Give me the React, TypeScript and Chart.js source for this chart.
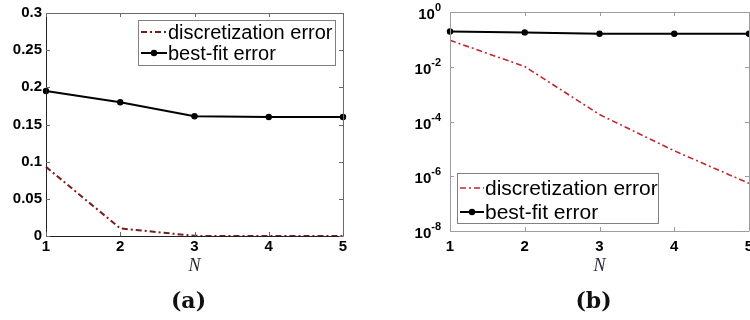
import React, { useEffect, useRef } from "react";
import { Chart, registerables } from "chart.js";

Chart.register(...registerables);

// Number of basis functions on the horizontal axis
const N = [1, 2, 3, 4, 5];
// Error curves
const discretizationError = [0.093, 0.0102, 1.8e-4, 8.5e-6, 5.5e-7];
const bestFitError = [0.195, 0.18, 0.161, 0.16, 0.16];
// Tick values
const linearTicks = [0, 0.05, 0.1, 0.15, 0.2, 0.25, 0.3];
const logExponents = [-8, -6, -4, -2, 0];
// Text
const seriesLabels = ["discretization error", "best-fit error"];
const panelLabels = ["(a)", "(b)"];
const axisTitle = "N";

const SANS = "'Liberation Sans', Arial, Helvetica, sans-serif";
const TICK_FONT = `bold 15px ${SANS}`;

type LegendBox = { x: number; y: number; w: number; h: number; firstRow: number; rowGap: number; lineLen: number; fontSize: number };

type DecorCfg = {
  frameLeftBottom: string;
  frameTopRight: string;
  legend: LegendBox;
  panelLabel: string;
  panelDx: number;
  logLabels: boolean;
  xLabelPad: number;
};

function makeDecor(cfg: DecorCfg) {
  return {
    id: "decor",
    afterDatasetsDraw(chart: any) {
      const { ctx, chartArea } = chart;
      const { left, right, top, bottom } = chartArea;
      const xs = chart.scales.x;
      const ys = chart.scales.y;
      ctx.save();

      // box frame
      ctx.lineWidth = 1;
      ctx.strokeStyle = cfg.frameTopRight;
      ctx.beginPath();
      ctx.moveTo(left, top + 0.5);
      ctx.lineTo(right + 0.5, top + 0.5);
      ctx.lineTo(right + 0.5, bottom);
      ctx.stroke();
      ctx.strokeStyle = cfg.frameLeftBottom;
      ctx.beginPath();
      ctx.moveTo(left + 0.5, top);
      ctx.lineTo(left + 0.5, bottom + 0.5);
      ctx.lineTo(right + 0.5, bottom + 0.5);
      ctx.stroke();

      // inward tick marks on all four sides
      ctx.strokeStyle = cfg.frameTopRight;
      const tl = 4;
      ctx.beginPath();
      for (const t of xs.ticks) {
        const px = Math.round(xs.getPixelForValue(t.value)) + 0.5;
        ctx.moveTo(px, bottom);
        ctx.lineTo(px, bottom - tl);
        ctx.moveTo(px, top);
        ctx.lineTo(px, top + tl);
      }
      for (const t of ys.ticks) {
        const py = Math.round(ys.getPixelForValue(t.value)) + 0.5;
        ctx.moveTo(left, py);
        ctx.lineTo(left + tl, py);
        ctx.moveTo(right, py);
        ctx.lineTo(right - tl, py);
      }
      ctx.stroke();

      // x tick labels
      ctx.fillStyle = "#000";
      ctx.font = TICK_FONT;
      ctx.textAlign = "center";
      ctx.textBaseline = "top";
      for (const t of xs.ticks) {
        ctx.fillText(String(t.value), xs.getPixelForValue(t.value), bottom + cfg.xLabelPad);
      }

      // power-of-ten labels for the log axis
      if (cfg.logLabels) {
        ctx.textBaseline = "middle";
        ctx.textAlign = "left";
        for (const t of ys.ticks) {
          const e = Math.round(Math.log10(t.value));
          const py = ys.getPixelForValue(t.value);
          const base = "10";
          const exp = String(e);
          ctx.font = TICK_FONT;
          const wb = ctx.measureText(base).width;
          ctx.font = `bold 11px ${SANS}`;
          const we = ctx.measureText(exp).width;
          const x0 = left - 9 - wb - we;
          ctx.font = TICK_FONT;
          ctx.fillText(base, x0, py + 3);
          ctx.font = `bold 11px ${SANS}`;
          ctx.fillText(exp, x0 + wb, py - 4);
        }
      }

      // legend
      const lg = cfg.legend;
      ctx.fillStyle = "#fff";
      ctx.fillRect(lg.x, lg.y, lg.w, lg.h);
      ctx.strokeStyle = "#808080";
      ctx.lineWidth = 1;
      ctx.strokeRect(lg.x + 0.5, lg.y + 0.5, lg.w, lg.h);
      chart.data.datasets.forEach((ds: any, i: number) => {
        const cy = lg.y + lg.firstRow + i * lg.rowGap;
        const x1 = lg.x + 3;
        const x2 = x1 + lg.lineLen;
        ctx.save();
        ctx.strokeStyle = ds.borderColor;
        ctx.lineWidth = ds.borderWidth;
        ctx.setLineDash(ds.borderDash || []);
        ctx.beginPath();
        ctx.moveTo(x1, cy);
        ctx.lineTo(x2, cy);
        ctx.stroke();
        ctx.restore();
        if (ds.pointRadius > 0) {
          ctx.fillStyle = ds.pointBackgroundColor;
          ctx.beginPath();
          ctx.arc((x1 + x2) / 2, cy, ds.pointRadius, 0, Math.PI * 2);
          ctx.fill();
        }
        ctx.fillStyle = "#000";
        ctx.font = `${lg.fontSize}px ${SANS}`;
        ctx.textAlign = "left";
        ctx.textBaseline = "middle";
        ctx.fillText(ds.label, x2 + 1, cy + 1);
      });

      // axis title and panel label
      const cx = (left + right) / 2;
      ctx.fillStyle = "#2b2b3a";
      ctx.textAlign = "center";
      ctx.textBaseline = "middle";
      ctx.font = `italic 18px 'Liberation Serif', 'Times New Roman', serif`;
      ctx.fillText(axisTitle, cx, 266);
      ctx.fillStyle = "#111";
      ctx.font = `bold 22px 'DejaVu Serif', serif`;
      ctx.fillText(cfg.panelLabel, cx + cfg.panelDx, 302);

      ctx.restore();
    },
  };
}

function buildConfig(logScale: boolean): any {
  const discColor = logScale ? "#c4262e" : "#7a1c1c";
  const datasets = [
    {
      label: seriesLabels[0],
      data: N.map((n, i) => ({ x: n, y: discretizationError[i] })),
      borderColor: discColor,
      backgroundColor: discColor,
      borderWidth: logScale ? 1.6 : 2,
      borderDash: [6, 3, 2, 3],
      pointRadius: 0,
      pointBackgroundColor: discColor,
      tension: 0,
      clip: false,
    },
    {
      label: seriesLabels[1],
      data: N.map((n, i) => ({ x: n, y: bestFitError[i] })),
      borderColor: "#000",
      backgroundColor: "#000",
      borderWidth: 2,
      pointRadius: 3.2,
      pointBorderWidth: 0,
      pointBackgroundColor: "#000",
      tension: 0,
      clip: false,
    },
  ];

  const hiddenGrid = { display: false, drawTicks: false };

  const yScale = logScale
    ? {
        type: "logarithmic",
        min: 1e-8,
        max: 1,
        afterBuildTicks: (s: any) => {
          s.ticks = logExponents.map((e) => ({ value: Math.pow(10, e) }));
        },
        afterFit: (s: any) => {
          s.width = 75;
        },
        grid: hiddenGrid,
        border: { display: false },
        ticks: { display: false },
      }
    : {
        type: "linear",
        min: 0,
        max: 0.3,
        afterBuildTicks: (s: any) => {
          s.ticks = linearTicks.map((v) => ({ value: v }));
        },
        afterFit: (s: any) => {
          s.width = 46;
        },
        grid: hiddenGrid,
        border: { display: false },
        ticks: {
          padding: 4,
          color: "#000",
          font: { family: SANS, size: 15, weight: "bold" },
          callback: (v: number) => String(v),
        },
      };

  return {
    type: "line",
    data: { datasets },
    options: {
      responsive: false,
      animation: false,
      events: [],
      layout: {
        autoPadding: false,
        padding: logScale ? { top: 12, right: 1, bottom: 0, left: 0 } : { top: 13, right: 32, bottom: 0, left: 0 },
      },
      plugins: { legend: { display: false }, tooltip: { enabled: false } },
      scales: {
        x: {
          type: "linear",
          min: 1,
          max: 5,
          afterBuildTicks: (s: any) => {
            s.ticks = N.map((v) => ({ value: v }));
          },
          afterFit: (s: any) => {
            s.height = logScale ? 89 : 84;
            s.paddingLeft = 0;
            s.paddingRight = 0;
          },
          grid: hiddenGrid,
          border: { display: false },
          ticks: { display: false },
        },
        y: yScale,
      },
    },
    plugins: [
      makeDecor(
        logScale
          ? {
              frameLeftBottom: "#9a9ca6",
              frameTopRight: "#9a9ca6",
              legend: { x: 82, y: 173, w: 201, h: 50, firstRow: 15, rowGap: 24, lineLen: 24, fontSize: 21 },
              panelLabel: panelLabels[1],
              panelDx: -6,
              logLabels: true,
              xLabelPad: 8,
            }
          : {
              frameLeftBottom: "#222",
              frameTopRight: "#6a6a6a",
              legend: { x: 138, y: 20, w: 197, h: 45, firstRow: 12, rowGap: 21, lineLen: 26, fontSize: 20 },
              panelLabel: panelLabels[0],
              panelDx: -6,
              logLabels: false,
              xLabelPad: 3,
            }
      ),
    ],
  };
}

function Panel({ logScale, offset }: { logScale: boolean; offset: number }) {
  const ref = useRef<HTMLCanvasElement>(null);
  useEffect(() => {
    const chart = new Chart(ref.current as HTMLCanvasElement, buildConfig(logScale));
    return () => chart.destroy();
  }, [logScale]);
  return (
    <canvas
      ref={ref}
      width={375}
      height={320}
      style={{ position: "absolute", left: offset, top: 0, width: 375, height: 320 }}
    />
  );
}

export default function App() {
  return (
    <div style={{ position: "absolute", left: 0, top: 0, width: 750, height: 320, background: "#fff", overflow: "hidden" }}>
      <Panel logScale={false} offset={0} />
      <Panel logScale={true} offset={375} />
    </div>
  );
}
